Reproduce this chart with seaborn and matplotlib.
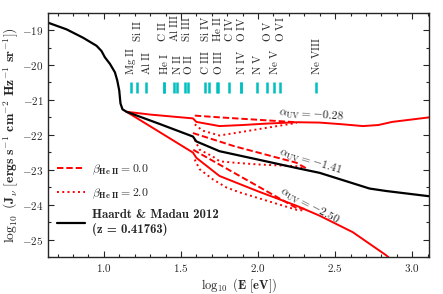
import numpy as np
import pandas as pd
import seaborn as sns
import matplotlib
matplotlib.use("Agg")
import matplotlib.pyplot as plt
from matplotlib.lines import Line2D
from matplotlib.ticker import FuncFormatter, MultipleLocator

# Haardt & Madau 2012 background (z = 0.41763)
hm_x = [0.64, 0.759, 0.866, 0.953, 0.985, 1.007, 1.04, 1.072, 1.087, 1.10, 1.108,
        1.121, 1.147, 1.35, 1.578, 1.60, 1.75, 2.0, 2.248, 2.399, 2.572, 2.723,
        2.83, 3.09, 3.11]
hm_y = [-18.79, -18.98, -19.22, -19.45, -19.60, -19.78, -19.97, -20.21, -20.44,
        -20.73, -21.10, -21.27, -21.34, -21.67, -22.05, -22.19, -22.47, -22.71,
        -22.95, -23.09, -23.33, -23.54, -23.61, -23.75, -23.76]

# power law models, alpha_UV = -0.28
a1_x = [1.147, 1.30, 1.45, 1.578, 1.60, 1.75, 1.90, 2.05, 2.25, 2.40, 2.55, 2.68,
        2.78, 2.87, 3.0, 3.11]
a1_y = [-21.34, -21.42, -21.48, -21.53, -21.63, -21.75, -21.72, -21.68, -21.64,
        -21.65, -21.70, -21.75, -21.72, -21.63, -21.56, -21.50]
a1_dash_x = [1.59, 1.75, 2.0, 2.25]
a1_dash_y = [-21.45, -21.50, -21.57, -21.64]
a1_dot_x = [1.59, 1.64, 1.75, 1.85, 2.0, 2.25]
a1_dot_y = [-21.70, -21.88, -22.02, -21.95, -21.84, -21.66]

# alpha_UV = -1.41
a2_dash_x = [1.578, 1.848, 2.248, 2.32]
a2_dash_y = [-21.95, -22.33, -22.80, -22.98]
a2_dot_x = [1.589, 1.622, 1.706, 1.751, 1.848, 2.0, 2.248, 2.30]
a2_dot_y = [-22.14, -22.43, -22.62, -22.76, -22.80, -22.85, -22.90, -22.97]

# alpha_UV = -2.50
a3_x = [1.147, 1.35, 1.578, 1.60, 1.75, 2.0, 2.248, 2.40, 2.614, 2.83, 2.87]
a3_y = [-21.34, -21.89, -22.51, -22.66, -23.18, -23.62, -24.03, -24.32, -24.79,
        -25.45, -25.60]
a3_dash_x = [1.58, 1.881, 2.25, 2.30]
a3_dash_y = [-22.43, -23.18, -24.10, -24.12]
a3_dot_x = [1.589, 1.622, 1.708, 1.795, 1.881, 2.25, 2.30]
a3_dot_y = [-22.71, -22.99, -23.28, -23.51, -23.65, -24.15, -24.17]

# ionisation energies (eV)
ions = ["Mg II", "Si II", "Al II", "He I", "C II", "N II", "Al III", "O II",
        "Si III", "C III", "Si IV", "O III", "He II", "C IV", "N IV", "O IV",
        "N V", "O V", "Ne V", "O VI", "Ne VIII"]
ion_ev = [15.04, 16.35, 18.83, 24.59, 24.38, 29.60, 28.45, 35.12, 33.49, 47.89,
          45.14, 54.94, 54.42, 64.49, 77.47, 77.41, 97.89, 113.9, 126.2, 138.1,
          239.1]
ion_upper = ["Si II", "C II", "Al III", "Si III", "Si IV", "He II", "C IV",
             "O IV", "O V", "O VI"]
# small sideways nudges of crowded labels
nudge = {"C III": -0.022, "C II": -0.012, "Si III": 0.008}

plt.rcParams["mathtext.fontset"] = "cm"
sns.set_style("ticks")
plt.rcParams["font.family"] = "serif"
plt.rcParams["font.serif"] = ["DejaVu Serif"]
plt.rcParams["xtick.direction"] = "in"
plt.rcParams["ytick.direction"] = "in"

fig, ax = plt.subplots(figsize=(4.43, 2.94), dpi=100)
fig.subplots_adjust(left=0.109, right=0.969, bottom=0.126, top=0.957)

dash = (0, (3.3, 1.5))
dot = (0, (1, 1.7))
lw_r = 1.4

sns.lineplot(x=a1_x, y=a1_y, ax=ax, color="r", lw=lw_r)
sns.lineplot(x=a3_x, y=a3_y, ax=ax, color="r", lw=lw_r)
for xs, ys in [(a1_dash_x, a1_dash_y), (a2_dash_x, a2_dash_y), (a3_dash_x, a3_dash_y)]:
    sns.lineplot(x=xs, y=ys, ax=ax, color="r", lw=lw_r, linestyle=dash)
for xs, ys in [(a1_dot_x, a1_dot_y), (a2_dot_x, a2_dot_y), (a3_dot_x, a3_dot_y)]:
    sns.lineplot(x=xs, y=ys, ax=ax, color="r", lw=lw_r, linestyle=dot)
sns.lineplot(x=hm_x, y=hm_y, ax=ax, color="k", lw=1.6)

# ion markers
ion_x = np.log10(ion_ev)
ax.vlines(ion_x, -20.8, -20.5, color="c", lw=1.8)
for name, xv in zip(ions, ion_x):
    yb = -19.33 if name in ion_upper else -20.30
    ax.text(xv + nudge.get(name, 0), yb, r"$\mathrm{%s}$" % name.replace(" ", r"\ "),
            rotation=90, ha="center", va="bottom", fontsize=8)

# alpha labels
ax.text(2.347, -21.44, r"$\alpha_{\rm UV} = \mathbf{-0.28}$", rotation=-4,
        ha="center", va="center", fontsize=8.5, rotation_mode="anchor")
ax.text(2.34, -22.77, r"$\alpha_{\rm UV} = \mathbf{-1.41}$", rotation=-17,
        ha="center", va="center", fontsize=8.5, rotation_mode="anchor")
ax.text(2.334, -24.04, r"$\alpha_{\rm UV} = \mathbf{-2.50}$", rotation=-28,
        ha="center", va="center", fontsize=8.5, rotation_mode="anchor")

ax.set_xlim(0.64, 3.11)
ax.set_ylim(-25.5, -18.5)
ax.xaxis.set_major_locator(MultipleLocator(0.5))
ax.xaxis.set_minor_locator(MultipleLocator(0.1))
ax.yaxis.set_major_locator(MultipleLocator(1))
ax.yaxis.set_minor_locator(MultipleLocator(0.5))
ax.tick_params(which="both", top=True, right=True, labelsize=8, width=0.8)
ax.tick_params(which="major", length=4)
ax.tick_params(which="minor", length=2)
ax.xaxis.set_major_formatter(FuncFormatter(lambda v, p: r"$\mathbf{%.1f}$" % v))
ax.yaxis.set_major_formatter(FuncFormatter(lambda v, p: r"$\mathbf{%d}$" % round(v)))
for s in ax.spines.values():
    s.set_linewidth(1.0)

ax.set_xlabel(r"$\mathbf{\log_{10}\ (E\ [eV])}$", fontsize=9, labelpad=2)
ax.set_ylabel(r"$\mathbf{\log_{10}\ (J_{\nu}\ [ergs\ s^{-1}\ cm^{-2}\ Hz^{-1}\ sr^{-1}])}$",
              fontsize=9.8, labelpad=1)

handles = [Line2D([], [], color="r", lw=lw_r, linestyle=dash),
           Line2D([], [], color="r", lw=lw_r, linestyle=dot),
           Line2D([], [], color="k", lw=1.6)]
labels = [r"$\beta_{\mathbf{He\ II}}\mathbf{=0.0}$",
          r"$\beta_{\mathbf{He\ II}}\mathbf{=2.0}$",
          "Haardt & Madau 2012\n(z = 0.41763)"]
leg = ax.legend(handles, labels, loc="lower left", frameon=False, fontsize=8.5,
                handlelength=2.4, handletextpad=0.6, borderaxespad=0.3,
                bbox_to_anchor=(0.0, 0.05), labelspacing=0.75)
leg.get_texts()[2].set_family("cmb10")
leg.get_texts()[2].set_fontsize(9.2)

fig.savefig("out.png", dpi=100)
